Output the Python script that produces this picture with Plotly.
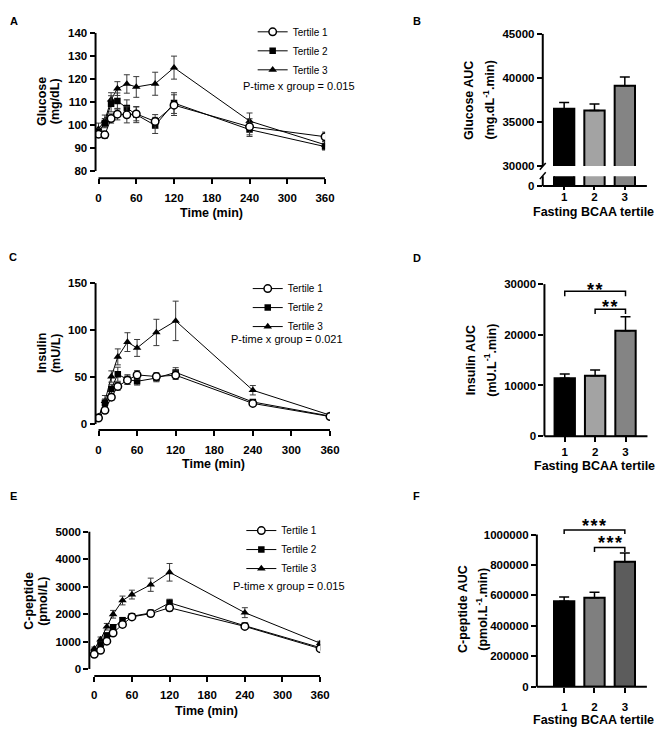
import plotly.graph_objects as go

W, H = 669, 737
FONT = "Liberation Sans"

# ---------------- data ----------------
time_min = [0, 10, 20, 30, 45, 60, 90, 120, 240, 360]
tertile_names = ["Tertile 1", "Tertile 2", "Tertile 3"]

glucose_t1 = [96.0, 95.7, 102.8, 104.7, 104.4, 104.8, 101.5, 108.6, 99.2, 94.9]
glucose_t2 = [97.0, 100.8, 109.2, 110.4, 107.4, 104.5, 99.8, 109.5, 98.0, 90.6]
glucose_t3 = [98.3, 101.8, 111.0, 115.8, 117.8, 116.5, 117.9, 124.9, 101.7, 91.4]
glucose_t1_se = [1.5, 1.5, 2.0, 2.5, 3.5, 3.0, 3.0, 4.5, 3.5, 2.0]
glucose_t2_se = [1.5, 2.0, 3.5, 3.5, 3.5, 3.5, 3.5, 4.5, 3.0, 1.5]
glucose_t3_se = [2.5, 2.5, 3.0, 3.0, 4.0, 4.5, 5.0, 5.0, 3.5, 1.5]

insulin_t1 = [6.5, 14.6, 28.6, 40.1, 46.7, 52.3, 50.6, 52.0, 22.0, 8.0]
insulin_t2 = [7.5, 22.7, 37.3, 53.0, 47.5, 45.5, 49.0, 55.0, 23.5, 8.5]
insulin_t3 = [8.0, 24.4, 50.6, 71.5, 87.2, 81.0, 97.5, 109.8, 36.0, 9.5]
insulin_t1_se = [1.5, 2.5, 3.5, 4.0, 4.5, 4.5, 4.0, 4.5, 2.5, 1.0]
insulin_t2_se = [1.5, 4.0, 5.0, 7.5, 5.0, 4.0, 4.0, 5.0, 2.5, 1.0]
insulin_t3_se = [2.0, 6.0, 6.0, 8.5, 10.0, 9.0, 14.0, 21.0, 5.0, 1.5]

cpep_t1 = [537, 680, 1014, 1313, 1623, 1897, 2017, 2231, 1550, 741]
cpep_t2 = [620, 895, 1217, 1516, 1778, 1920, 2040, 2410, 1575, 780]
cpep_t3 = [740, 1074, 1539, 1993, 2494, 2709, 3067, 3520, 2051, 941]
cpep_t1_se = [40, 60, 80, 100, 100, 100, 100, 120, 80, 60]
cpep_t2_se = [50, 80, 100, 100, 100, 100, 110, 130, 90, 60]
cpep_t3_se = [60, 90, 120, 140, 160, 160, 240, 320, 180, 70]

bar_tertiles = [1, 2, 3]
bar_ticktext = ["1", "2", "3"]
glucose_auc = [36500, 36300, 39100]
glucose_auc_se = [700, 750, 1000]
insulin_auc = [11450, 11900, 20800]
insulin_auc_se = [830, 1160, 2780]
cpep_auc = [562000, 584000, 821000]
cpep_auc_se = [28000, 37000, 58000]

time_ticks = [0, 60, 120, 180, 240, 300, 360]
glucose_ticks = [80, 90, 100, 110, 120, 130, 140]
glucose_auc_ticks = [30000, 35000, 40000, 45000]
insulin_ticks = [0, 50, 100, 150]
insulin_auc_ticks = [0, 10000, 20000, 30000]
cpep_ticks = [0, 1000, 2000, 3000, 4000, 5000]
cpep_auc_ticks = [0, 200000, 400000, 600000, 800000, 1000000]

p_texts = ["P-time x group = 0.015", "P-time x group = 0.021", "P-time x group = 0.015"]
sig_two = "*\u200a*"
sig_three = "*\u200a*\u200a*"


# ---------------- helpers ----------------
def xd(p0, p1):
    return [p0 / W, p1 / W]


def yd(top, bottom):
    return [1 - bottom / H, 1 - top / H]


def px(x):
    return x / W


def py(y):
    return 1 - y / H


TICKFONT = dict(family=FONT, size=11.5, color="black", weight="bold")


def axis(domain, rng, tickvals, anchor, ticktext=None, ticklen=5, standoff=0):
    d = dict(domain=domain, range=rng, tickvals=tickvals, anchor=anchor,
             ticks="outside", ticklen=ticklen, tickwidth=2, tickcolor="black",
             showline=False, showgrid=False, zeroline=False, tickformat="d",
             ticklabelstandoff=standoff,
             tickfont=TICKFONT, fixedrange=True)
    if ticktext is not None:
        d["ticktext"] = ticktext
    return d


fig = go.Figure()

line_styles = [
    dict(symbol="circle", color="white", size=7.5, line=dict(color="black", width=1.5)),
    dict(symbol="square", color="black", size=6.5, line=dict(color="black", width=0)),
    dict(symbol="triangle-up", color="black", size=7.5, line=dict(color="black", width=0)),
]


def add_lines(series, ses, xa, ya, legend):
    for i in [2, 1, 0]:
        fig.add_trace(go.Scatter(
            x=time_min, y=series[i], name=tertile_names[i], mode="lines+markers",
            line=dict(color="black", width=1), marker=line_styles[i],
            error_y=dict(type="data", array=ses[i], color="#3a3a3a", thickness=1, width=3),
            xaxis=xa, yaxis=ya, legend=legend, legendrank=i + 1))


add_lines([glucose_t1, glucose_t2, glucose_t3], [glucose_t1_se, glucose_t2_se, glucose_t3_se],
          "x", "y", "legend")
add_lines([insulin_t1, insulin_t2, insulin_t3], [insulin_t1_se, insulin_t2_se, insulin_t3_se],
          "x3", "y4", "legend2")
add_lines([cpep_t1, cpep_t2, cpep_t3], [cpep_t1_se, cpep_t2_se, cpep_t3_se],
          "x5", "y6", "legend3")

bar_colors_light = ["#000000", "#a3a3a3", "#848484"]
bar_colors_dark = ["#000000", "#7f7f7f", "#5c5c5c"]


def add_bars(vals, se, xa, ya, colors, with_err=True):
    err = dict(type="data", array=se, arrayminus=[0] * len(se), symmetric=False,
               color="black", thickness=1.5, width=5) if with_err else None
    fig.add_trace(go.Bar(x=bar_tertiles, y=vals, width=0.67,
                         marker=dict(color=colors, line=dict(color="black", width=2)),
                         error_y=err, showlegend=False, xaxis=xa, yaxis=ya))


add_bars(glucose_auc, glucose_auc_se, "x2", "y2", bar_colors_light)
add_bars(glucose_auc, glucose_auc_se, "x2", "y3", bar_colors_light, with_err=False)
add_bars(insulin_auc, insulin_auc_se, "x4", "y5", bar_colors_light)
add_bars(cpep_auc, cpep_auc_se, "x6", "y7", bar_colors_dark)

# ---------------- axes ----------------
layout_axes = dict(
    xaxis=axis(xd(97, 330), [-4.7, 360], time_ticks, "y", standoff=4),
    yaxis=axis(yd(27.3, 175), [76.9, 140], glucose_ticks, "x"),
    xaxis2=axis(xd(551, 656.7), [0.295, 3.727], bar_tertiles, "y3", bar_ticktext,
                ticklen=3, standoff=-3),
    yaxis2=axis(yd(28.3, 162.7), [30000, 45000], glucose_auc_ticks, "x2"),
    yaxis3=axis(yd(173, 183), [0, 2000], [0], "x2"),
    xaxis3=axis(xd(97, 335), [-4.6, 360], time_ticks, "y4", standoff=4),
    yaxis4=axis(yd(281.7, 431), [-6.3, 150], insulin_ticks, "x3"),
    xaxis4=axis(xd(552.7, 657.3), [0.332, 3.723], bar_tertiles, "y5", bar_ticktext),
    yaxis5=axis(yd(282.7, 437.3), [0, 30000], insulin_auc_ticks, "x4"),
    xaxis5=axis(xd(90.7, 325), [-7.85, 360], time_ticks, "y6", standoff=3),
    yaxis6=axis(yd(534.3, 681), [-250, 5000], cpep_ticks, "x5"),
    xaxis6=axis(xd(545, 656.7), [0.1, 3.727], bar_tertiles, "y7", bar_ticktext, standoff=4),
    yaxis7=axis(yd(537.3, 692), [0, 1000000], cpep_auc_ticks, "x6"),
)

shapes = []
AX = dict(color="black", width=2)


def line_shape(xref, yref, x0, y0, x1, y1, lw=AX):
    shapes.append(dict(type="line", xref=xref, yref=yref, x0=x0, y0=y0, x1=x1, y1=y1,
                       line=lw, layer="above"))


# axis lines (Prism style, offset)
line_shape("x domain", "y", 0, 80, 0, 140)
line_shape("x", "y domain", 0, 0, 360, 0)
line_shape("x3 domain", "y4", 0, 0, 0, 150)
line_shape("x3", "y4 domain", 0, 0, 360, 0)
line_shape("x5 domain", "y6", 0, 0, 0, 5000)
line_shape("x5", "y6 domain", 0, 0, 360, 0)
# bar panels
line_shape("x2 domain", "y2", 0, 30000, 0, 45000)
line_shape("x2 domain", "y3 domain", 0, 0, 0, 1)
line_shape("x2 domain", "y3 domain", 0, 0, 1, 0)
line_shape("x4 domain", "y5 domain", 0, 0, 0, 1)
line_shape("x4 domain", "y5 domain", 0, 0, 1, 0)
line_shape("x6 domain", "y7 domain", 0, 0, 0, 1)
line_shape("x6 domain", "y7 domain", 0, 0, 1, 0)
# axis break marks
line_shape("paper", "paper", px(548), py(166.5), px(554), py(159.5), dict(color="black", width=1.5))
line_shape("paper", "paper", px(548), py(176), px(554), py(169), dict(color="black", width=1.5))


# significance brackets
def bracket(xref, xa, xb, ytop, ylow):
    shapes.append(dict(type="path", xref=xref, yref="paper",
                       path=f"M {xa},{py(ylow)} L {xa},{py(ytop)} L {xb},{py(ytop)} L {xb},{py(ylow)}",
                       line=dict(color="black", width=1.5), layer="above"))


bracket("x4", 1, 3, 290, 295)
bracket("x4", 2, 3, 308.3, 313)
bracket("x6", 1, 3, 532.7, 536.7)
bracket("x6", 2, 3, 550.5, 555)

annotations = []


def text(x, y, s, size=12.5, bold=True, angle=0, xanchor="center", xref="paper", yref="paper"):
    annotations.append(dict(x=x, y=y, xref=xref, yref=yref, text=s, showarrow=False,
                            textangle=angle, xanchor=xanchor, yanchor="middle",
                            font=dict(family=FONT, size=size, color="black",
                                      weight="bold" if bold else "normal")))


# panel letters
for letter, (lx, ly) in zip("ABCDEF", [(14, 15), (423, 15), (13.5, 255), (423, 256.5),
                                       (13.5, 498), (423, 498)]):
    text(px(lx), py(ly), letter, size=11)

# y-axis titles (two rotated lines each)
ytitles = [
    ("Glucose", "(mg/dL)", 43.3, 56.7, 97),
    ("Glucose AUC", "(mg.dL<sup>-1</sup>.min)", 476.7, 496.5, 96),
    ("Insulin", "(mU/L)", 43.3, 56.7, 353),
    ("Insulin AUC", "(mU.L<sup>-1</sup>.min)", 478.3, 498, 360),
    ("C-peptide", "(pmol/L)", 30, 43.3, 605),
    ("C-peptide AUC", "(pmol.L<sup>-1</sup>.min)", 470, 489, 613),
]
for l1, l2, x1, x2, yc in ytitles:
    text(px(x1), py(yc), l1, angle=-90)
    text(px(x2), py(yc), l2, angle=-90)

# x-axis titles
text(px(215), py(210), "Time (min)")
text(px(603), py(209), "Fasting BCAA tertile")
text(px(217), py(466), "Time (min)")
text(px(604), py(468), "Fasting BCAA tertile")
text(px(210), py(716.7), "Time (min)")
text(px(603), py(726), "Fasting BCAA tertile")

# P values
text(px(245), py(81), p_texts[0], size=11, bold=False, xanchor="left")
text(px(232), py(338.3), p_texts[1], size=11, bold=False, xanchor="left")
text(px(235), py(589.3), p_texts[2], size=11, bold=False, xanchor="left")

# stars (glyph centre sits ~0.22 em above the text box middle)
STAR = 18
SOFF = 0.22 * STAR
text(2, py(284.3 + SOFF), sig_two, size=STAR, xref="x4")
text(2.5, py(301.7 + SOFF), sig_two, size=STAR, xref="x4")
text(2, py(525 + SOFF), sig_three, size=STAR, xref="x6")
text(2.5, py(541.7 + SOFF), sig_three, size=STAR, xref="x6")

LEG = dict(font=dict(family=FONT, size=10, color="black"), bgcolor="rgba(0,0,0,0)",
           xanchor="left", yanchor="top", borderwidth=0, traceorder="normal")

fig.update_layout(
    width=W, height=H, autosize=False,
    margin=dict(l=0, r=0, t=0, b=0),
    paper_bgcolor="white", plot_bgcolor="white",
    bargap=0,
    showlegend=True,
    legend=dict(LEG, x=px(256.5), y=py(11.5)),
    legend2=dict(LEG, x=px(251.5), y=py(272.5)),
    legend3=dict(LEG, x=px(245), y=py(518.5)),
    shapes=shapes, annotations=annotations,
    **layout_axes,
)

fig.write_html(
    "out.html",
    config={"displayModeBar": False, "staticPlot": True},
    post_script="document.body.style.margin='0';document.body.style.padding='0';"
                "document.documentElement.style.overflow='hidden';",
)
